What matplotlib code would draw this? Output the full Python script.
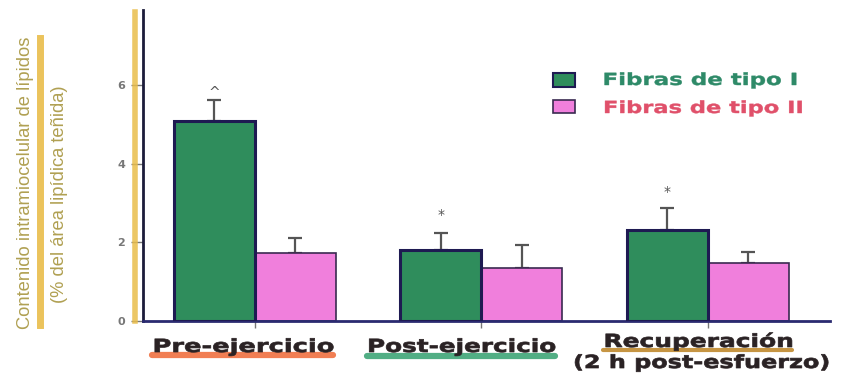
import matplotlib.pyplot as plt
import numpy as np
from matplotlib.lines import Line2D
from matplotlib.patches import Rectangle
from matplotlib import patheffects
from matplotlib.transforms import Affine2D

# data
grupos = ['Pre-ejercicio', 'Post-ejercicio', 'Recuperación\n(2 h post-esfuerzo)']
tipo1 = [5.08, 1.80, 2.32]
tipo1_err = [0.53, 0.44, 0.55]
tipo2 = [1.73, 1.35, 1.48]
tipo2_err = [0.38, 0.58, 0.28]
marcas = ['^', '*', '*']
yticks = [0, 2, 4, 6]

verde = '#2f8d5c'
rosa = '#f07fdc'
borde = '#1e1a52'
oro = '#e9bd4a'
texto_y = '#b0a052'

W, H = 847, 373
fig = plt.figure(figsize=(W / 100, H / 100), dpi=100)
ax = fig.add_axes([143 / W, 1 - 321 / H, 687 / W, 311 / H])


class Ancho(patheffects.AbstractPathEffect):
    """stretch the glyphs horizontally around a fixed x (display px), with a thin outline"""

    def __init__(self, sx, cx, grosor=0.5):
        super().__init__()
        self.sx, self.cx, self.grosor = sx, cx, grosor

    def draw_path(self, renderer, gc, tpath, affine, rgbFace=None):
        t = affine + Affine2D().translate(-self.cx, 0).scale(self.sx, 1).translate(self.cx, 0)
        gc0 = renderer.new_gc()
        gc0.copy_properties(gc)
        gc0.set_linewidth(self.grosor)
        gc0.set_foreground(rgbFace)
        gc0.set_joinstyle('round')
        renderer.draw_path(gc0, tpath, t, rgbFace)
        gc0.restore()


def texto_ancho(xc, y, s, ancho, grosor=0.5, **kw):
    # xc, y in pixels from top-left, ancho = wanted width in pixels
    t = fig.text(xc / W, 1 - y / H, s, ha='center', va='baseline',
                 family='DejaVu Sans', fontweight='bold', **kw)
    fig.canvas.draw()
    w = t.get_window_extent().width
    t.set_path_effects([Ancho(ancho / w, xc, grosor)])
    return t


x = np.arange(len(grupos))
w = 0.358
ax.bar(x - w / 2, tipo1, w, color=verde, edgecolor=borde, linewidth=2.2, zorder=3)
ax.bar(x + w / 2, tipo2, w, color=rosa, edgecolor='#3a2a50', linewidth=1.2, zorder=2)
ax.errorbar(x - w / 2, tipo1, yerr=[np.zeros(3), tipo1_err], fmt='none',
            ecolor='#555555', elinewidth=1.6, capsize=5, capthick=1.6, zorder=1)
ax.errorbar(x + w / 2, tipo2, yerr=[np.zeros(3), tipo2_err], fmt='none',
            ecolor='#555555', elinewidth=1.6, capsize=5, capthick=1.6, zorder=1)

offs = [2, 10, 9]
for i in range(3):
    ax.annotate(marcas[i], (x[i] - w / 2, tipo1[i] + tipo1_err[i]),
                xytext=(0, offs[i]), textcoords='offset points',
                ha='center', va='baseline', fontsize=10, color='#555555')

ax.set_xlim(-0.494, 2.54)
ax.set_ylim(0, 7.9)
ax.set_yticks(yticks)
ax.set_yticklabels([str(v) for v in yticks], fontsize=8, color='#777777', fontweight='bold')
ax.tick_params(axis='y', length=9, width=1, color='#777777', pad=4)
ax.set_xticks(x)
ax.set_xticklabels([])
ax.tick_params(axis='x', length=5, width=1, color='#777777')

for s in ['top', 'right']:
    ax.spines[s].set_visible(False)
ax.spines['left'].set_color('#1c1c3a')
ax.spines['left'].set_linewidth(2)
ax.spines['bottom'].set_color('#2a2a70')
ax.spines['bottom'].set_linewidth(2)

# yellow highlight along the axis
fig.add_artist(Line2D([135 / W, 135 / W], [1 - 12 / H, 1 - 321 / H],
                      color=oro, lw=4, alpha=0.85))

# x labels with coloured underlines
for x0, x1, y, c, lw in [(152, 333, 355, '#f07040', 4.5),
                         (367, 555, 356, '#3ea577', 4.5),
                         (603, 792, 350, '#c08a2e', 3)]:
    fig.add_artist(Line2D([x0 / W, x1 / W], [1 - y / H, 1 - y / H],
                          color=c, lw=lw, alpha=0.9, solid_capstyle='round'))
texto_ancho(243, 352, 'Pre-ejercicio', 181, fontsize=13, color='#2a2224')
texto_ancho(461, 352, 'Post-ejercicio', 188, fontsize=13, color='#2a2224')
texto_ancho(698, 347, 'Recuperación', 189, fontsize=13, color='#2a2224')
texto_ancho(701, 368, '(2 h post-esfuerzo)', 256, fontsize=13, color='#2a2224')

# y label
fig.add_artist(Line2D([40 / W, 40 / W], [1 - 38 / H, 1 - 325 / H],
                      color=oro, lw=5, alpha=0.9))
fig.text(26 / W, 1 - 183 / H, 'Contenido intramiocelular de lípidos',
         rotation=90, ha='center', va='center', fontsize=13.2,
         color=texto_y, family='Liberation Sans')
fig.text(59 / W, 1 - 194 / H, '(% del área lipídica teñida)',
         rotation=90, ha='center', va='center', fontsize=13.2,
         color=texto_y, family='Liberation Sans')

# legend
fig.add_artist(Rectangle((553 / W, 1 - 87 / H), 22 / W, 14 / H,
                         facecolor=verde, edgecolor=borde, lw=1.5))
fig.add_artist(Rectangle((553 / W, 1 - 113 / H), 22 / W, 13 / H,
                         facecolor=rosa, edgecolor='#3a2a50', lw=1.2))
texto_ancho(700, 85, 'Fibras de tipo I', 195, grosor=0.3, fontsize=12, color='#2e8a68')
texto_ancho(703, 113, 'Fibras de tipo II', 200, grosor=0.3, fontsize=12, color='#e0506a')

fig.savefig('out.png', dpi=100)
